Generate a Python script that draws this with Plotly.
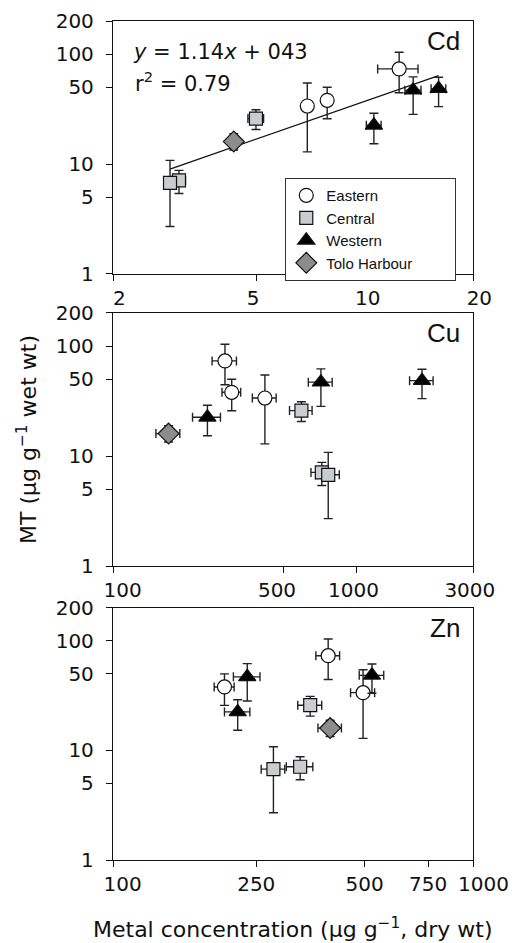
import plotly.graph_objects as go
import numpy as np

# ---------------- data ----------------
regions = ["Eastern", "Central", "Western", "Tolo Harbour"]

# MT (ug/g wet wt) per site, same in every panel
mt = {
    "Eastern": [73.3, 38.0, 33.7],
    "Central": [25.9, 7.1, 6.75],
    "Western": [48.5, 47.0, 22.5],
    "Tolo Harbour": [16.0],
}
mt_hi = {
    "Eastern": [104, 50, 54.5],
    "Central": [31.2, 8.75, 10.8],
    "Western": [61.6, 62, 29.0],
    "Tolo Harbour": [18.9],
}
mt_lo = {
    "Eastern": [44.5, 25.8, 12.9],
    "Central": [20.6, 5.4, 2.7],
    "Western": [33.3, 28.3, 15.3],
    "Tolo Harbour": [13.4],
}

# metal concentration (ug/g dry wt) per site
cd = {"Eastern": [12.47, 7.87, 6.93], "Central": [4.99, 3.05, 2.88],
      "Western": [16.05, 13.64, 10.61], "Tolo Harbour": [4.33]}
cd_err = {"Eastern": [1.6, 0.25, 0.15], "Central": [0.25, 0.13, 0.05],
          "Western": [0.75, 0.7, 0.5], "Tolo Harbour": [0.15]}
cu = {"Eastern": [288, 307, 420], "Central": [593, 719, 764],
      "Western": [1853, 713, 244], "Tolo Harbour": [169]}
cu_err = {"Eastern": [33, 27, 47], "Central": [63, 70, 84],
          "Western": [205, 80, 32], "Tolo Harbour": [19]}
zn = {"Eastern": [396, 204, 495], "Central": [353, 331, 279],
      "Western": [524, 236, 222], "Tolo Harbour": [401]}
zn_err = {"Eastern": [30, 13, 38], "Central": [27, 28, 21],
          "Western": [41, 20, 18], "Tolo Harbour": [30]}

# Cd regression (log-log): log y = 1.14 log x + 0.43
reg_slope = 1.14
reg_intercept = 0.43

y_ticks = [1, 5, 10, 50, 100, 200]
cd_ticks = [2, 5, 10, 20]
cu_ticks = [100, 500, 1000, 3000]
zn_ticks = [100, 250, 500, 750, 1000]

# label nudges (number of non-breaking spaces before / after each tick label)
NB = "\u00a0"
cd_pad = [(2, 0), (0, 1), (1, 0), (2, 0)]
cu_pad = [(3, 0), (0, 2), (0, 1), (0, 1)]
zn_pad = [(3, 0), (0, 0), (0, 0), (0, 0), None]   # None: label drawn separately, nudged right

def labels(ticks, pads):
    out = []
    for t, p in zip(ticks, pads):
        out.append("" if p is None else NB * p[0] + str(t) + NB * p[1])
    return out

# ---------------- styles ----------------
style = {
    "Eastern": dict(symbol="circle", color="white", size=14),
    "Central": dict(symbol="square", color="#c9cdd0", size=13),
    "Western": dict(symbol="triangle-up", color="black", size=15),
    "Tolo Harbour": dict(symbol="diamond", color="#8c8c8c", size=16),
}
legend_pad = {"Eastern": 0, "Central": 0, "Western": 0, "Tolo Harbour": 9}
ERR_COL = "#222222"

fig = go.Figure()

panels = [("x", "y", cd, cd_err), ("x2", "y2", cu, cu_err), ("x3", "y3", zn, zn_err)]

# regression line in Cd panel
all_cd = [v for r in regions for v in cd[r]]
xl = np.array([min(all_cd), max(all_cd)])
yl = 10 ** (reg_slope * np.log10(xl) + reg_intercept)
fig.add_trace(go.Scatter(x=xl, y=yl, mode="lines", line=dict(color="#111111", width=1.3),
                         showlegend=False, xaxis="x", yaxis="y", hoverinfo="skip"))

for pi, (xa, ya, xd, xe) in enumerate(panels):
    for r in regions:
        xv = np.array(xd[r], dtype=float)
        yv = np.array(mt[r], dtype=float)
        st = style[r]
        fig.add_trace(go.Scatter(
            x=xv, y=yv, mode="markers", name=r + NB * legend_pad[r],
            legendgroup=r, showlegend=(pi == 0),
            xaxis=xa, yaxis=ya,
            marker=dict(symbol=st["symbol"], color=st["color"], size=st["size"],
                        line=dict(color="#111111", width=1.2)),
            error_y=dict(type="data", symmetric=False,
                         array=np.array(mt_hi[r]) - yv,
                         arrayminus=yv - np.array(mt_lo[r]),
                         color=ERR_COL, thickness=1.4, width=4.5),
            error_x=dict(type="data", symmetric=True, array=xe[r],
                         color=ERR_COL, thickness=1.4, width=4.5),
        ))

TICKFONT = dict(family="DejaVu Sans", size=20, color="#111111")

def xaxis(ticks, pads, rng, anchor, domain=(0, 1)):
    return dict(type="log", range=[np.log10(rng[0]), np.log10(rng[1])],
                tickvals=ticks, ticktext=labels(ticks, pads), tickangle=0,
                showline=True, linecolor="#111111", linewidth=1.3, mirror=True,
                ticks="outside", ticklen=6, tickwidth=1.3, tickcolor="#111111",
                showgrid=False, zeroline=False, tickfont=TICKFONT,
                anchor=anchor, domain=list(domain), automargin=False)

def yaxis(domain, anchor):
    return dict(type="log", range=[0, np.log10(200)],
                tickvals=y_ticks, ticktext=[str(t) for t in y_ticks],
                showline=True, linecolor="#111111", linewidth=1.3, mirror=True,
                ticks="outside", ticklen=6, tickwidth=1.3, tickcolor="#111111",
                showgrid=False, zeroline=False, tickfont=TICKFONT,
                ticklabelstandoff=8, automargin=False,
                anchor=anchor, domain=list(domain))

fig.update_layout(
    width=512, height=943,
    margin=dict(l=113, r=39, t=21, b=83),
    paper_bgcolor="white", plot_bgcolor="white",
    font=dict(family="Liberation Sans", color="#111111"),
    xaxis=xaxis(cd_ticks, cd_pad, (2, 20), "y"),
    yaxis=yaxis((0.6985, 1.0), "x"),
    xaxis2=xaxis(cu_ticks, cu_pad, (100, 3000), "y2"),
    yaxis2=yaxis((0.3504, 0.652), "x2"),
    xaxis3=xaxis(zn_ticks, zn_pad, (100, 1000), "y3"),
    yaxis3=yaxis((0.0, 0.3004), "x3"),
    legend=dict(x=0.478, y=0.813, xanchor="left", yanchor="top",
                bgcolor="white", bordercolor="#333333", borderwidth=1.2,
                font=dict(family="Liberation Sans", size=15, color="#111111"),
                tracegroupgap=0, itemwidth=30),
    showlegend=True,
)

annots = []
# separately drawn Zn tick label (nudged right like the original)
for t, p in zip(zn_ticks, zn_pad):
    if p is None:
        annots.append(dict(text=str(t), xref="x3", yref="paper", x=np.log10(t),
                           y=(860 - 884) / 839, xanchor="center", yanchor="middle",
                           xshift=10, showarrow=False, font=TICKFONT))
for lbl, xr, yr in [("Cd", "x domain", "y domain"), ("Cu", "x2 domain", "y2 domain"),
                    ("Zn", "x3 domain", "y3 domain")]:
    annots.append(dict(text=lbl, xref=xr, yref=yr, x=0.97, y=0.92, xanchor="right",
                       yanchor="middle", showarrow=False,
                       font=dict(family="Liberation Sans", size=26, color="#111111")))
annots.append(dict(text="<i>y</i> = 1.14<i>x</i> + 043", xref="paper", yref="paper",
                   x=(131 - 113) / 360, y=(860 - 52) / 839, xanchor="left", yanchor="middle",
                   showarrow=False, font=dict(family="DejaVu Sans", size=21, color="#111111")))
annots.append(dict(text="r<sup>2</sup> = 0.79", xref="paper", yref="paper",
                   x=(133 - 113) / 360, y=(860 - 82) / 839, xanchor="left", yanchor="middle",
                   showarrow=False, font=dict(family="DejaVu Sans", size=21, color="#111111")))
annots.append(dict(text="MT (µg g<sup>−1</sup> wet wt)", xref="paper", yref="paper",
                   x=(27 - 113) / 360, y=(860 - 440) / 839, xanchor="center", yanchor="middle",
                   textangle=-90, showarrow=False,
                   font=dict(family="DejaVu Sans", size=22, color="#111111")))
annots.append(dict(text="Metal concentration (µg g<sup>−1</sup>, dry wt)", xref="paper", yref="paper",
                   x=(293 - 113) / 360, y=(860 - 928) / 839, xanchor="center", yanchor="middle",
                   showarrow=False, font=dict(family="DejaVu Sans", size=22, color="#111111")))
fig.update_layout(annotations=annots)

fig.write_html("out.html", config={"displayModeBar": False},
               post_script="document.body.style.margin='0';document.body.style.overflow='hidden';")
